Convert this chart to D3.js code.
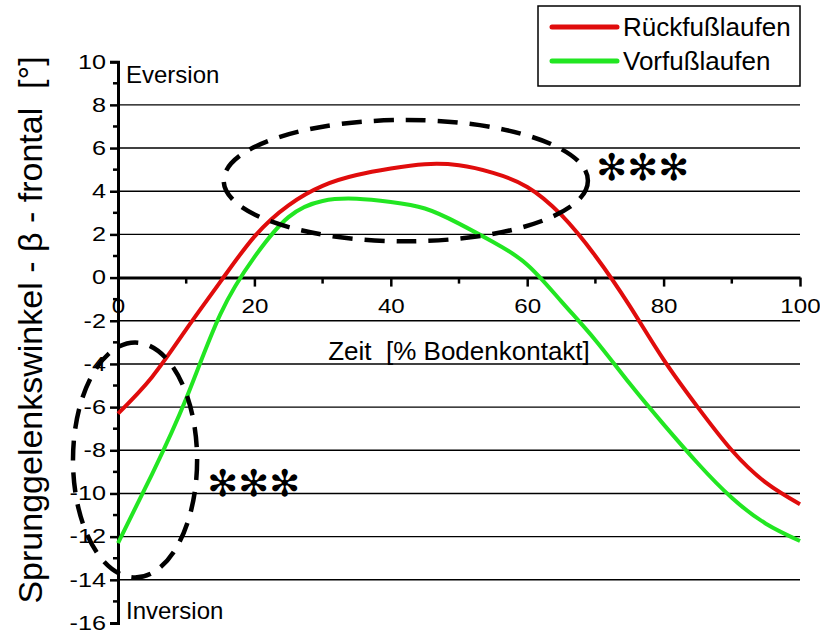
<!DOCTYPE html>
<html>
<head>
<meta charset="utf-8">
<script src="https://cdn.jsdelivr.net/npm/d3@7"></script>
<style>
  body { margin: 0; background: #fff; }
  svg { display: block; font-family: "Liberation Sans", Arial, sans-serif; }
  text { white-space: pre; }
</style>
</head>
<body>
<div id="chart"></div>
<script>
// time in % of ground contact
const zeit = [0, 5, 10, 15, 20, 25, 30, 35, 40, 45, 50, 55, 60, 65, 70, 75, 80, 85, 90, 95, 100];
// rearfoot running
const rueckfuss = [-6.3, -4.6, -2.4, -0.2, 1.9, 3.35, 4.25, 4.75, 5.05, 5.25, 5.2, 4.85, 4.2, 2.9, 1.0, -1.3, -3.8, -6.0, -8.0, -9.5, -10.5];
// forefoot running
const vorfuss = [-12.3, -9.1, -5.6, -1.7, 0.95, 2.8, 3.55, 3.65, 3.5, 3.2, 2.5, 1.65, 0.6, -1.1, -2.9, -4.9, -6.8, -8.6, -10.2, -11.4, -12.2];

const seriesNames = ['Rückfußlaufen', 'Vorfußlaufen'];
const seriesColors = ['#e00c0c', '#22e622'];

const xTicks = [0, 20, 40, 60, 80, 100];
const yTicks = [-16, -14, -12, -10, -8, -6, -4, -2, 0, 2, 4, 6, 8, 10];

// significance markers: center x/y and radii in data units
const ellipses = [
  { cx: 42.2, cy: 4.49, rx: 26.7, ry: 2.81 },
  { cx: 2.5, cy: -8.45, rx: 9.1, ry: 5.44 }
];

const W = 820, H = 633;
const x = d3.scaleLinear().domain([0, 100]).range([118, 800]);
const y = d3.scaleLinear().domain([-16, 10]).range([623, 61.7]);

const svg = d3.select('#chart').append('svg')
  .attr('width', W).attr('height', H);

// grid lines
svg.append('g').selectAll('line')
  .data(yTicks.filter(d => d !== 0 && d !== 10 && d !== -16))
  .enter().append('line')
  .attr('x1', x(0)).attr('x2', x(100))
  .attr('y1', d => y(d)).attr('y2', d => y(d))
  .attr('stroke', '#000').attr('stroke-width', 1.4);

// y axis
const yAxis = svg.append('g')
  .attr('transform', `translate(${x(0)},0)`)
  .call(d3.axisLeft(y).tickValues(yTicks).tickSize(8).tickFormat(d => d));
yAxis.select('.domain').attr('stroke-width', 3);
yAxis.selectAll('.tick line').attr('stroke-width', 2.5);
yAxis.selectAll('.tick text')
  .attr('font-size', 21).attr('font-family', null)
  .attr('x', -10).attr('dy', '0.3em')
  .attr('transform', 'scale(1.2,1)');
svg.append('g').selectAll('line')
  .data(d3.range(-15, 10, 2))
  .enter().append('line')
  .attr('x1', x(0) - 5).attr('x2', x(0))
  .attr('y1', d => y(d)).attr('y2', d => y(d))
  .attr('stroke', '#000').attr('stroke-width', 2.5);

// x axis at y = 0
const xAxis = svg.append('g')
  .attr('transform', `translate(0,${y(0)})`)
  .call(d3.axisBottom(x).tickValues(xTicks).tickSize(9).tickSizeOuter(0).tickFormat(d => d));
xAxis.select('.domain').attr('stroke-width', 3);
xAxis.selectAll('.tick line').attr('stroke-width', 2.5);
xAxis.selectAll('.tick text')
  .attr('font-size', 21).attr('font-family', null)
  .attr('y', 0).attr('dy', '1.7em')
  .attr('transform', 'scale(1.15,1)');
svg.append('g').selectAll('line')
  .data([10, 30, 50, 70, 90])
  .enter().append('line')
  .attr('x1', d => x(d)).attr('x2', d => x(d))
  .attr('y1', y(0)).attr('y2', y(0) + 6)
  .attr('stroke', '#000').attr('stroke-width', 2.5);

// curves
const line = d3.line()
  .x((d, i) => x(zeit[i]))
  .y(d => y(d))
  .curve(d3.curveNatural);
[rueckfuss, vorfuss].forEach((s, i) => {
  svg.append('path')
    .datum(s)
    .attr('d', line)
    .attr('fill', 'none')
    .attr('stroke', seriesColors[i])
    .attr('stroke-width', 4);
});

// dashed ellipses
svg.append('g').selectAll('ellipse')
  .data(ellipses)
  .enter().append('ellipse')
  .attr('cx', d => x(d.cx)).attr('cy', d => y(d.cy))
  .attr('rx', d => x(d.rx) - x(0)).attr('ry', d => y(0) - y(d.ry))
  .attr('fill', 'none')
  .attr('stroke', '#000').attr('stroke-width', 4.5)
  .attr('stroke-dasharray', '20 12');

// asterisks
[[596, 180], [207, 496]].forEach(p => {
  svg.append('text')
    .attr('x', p[0]).attr('y', p[1])
    .attr('font-family', 'DejaVu Sans').attr('font-size', 37)
    .text('✻✻✻');
});

// labels inside plot
svg.append('text').attr('x', 126).attr('y', 83).attr('font-size', 24).text('Eversion');
svg.append('text').attr('x', 126).attr('y', 619).attr('font-size', 24).text('Inversion');

// axis titles
svg.append('text')
  .attr('x', 459).attr('y', 360)
  .attr('text-anchor', 'middle').attr('font-size', 26)
  .text('Zeit  [% Bodenkontakt]');
svg.append('text')
  .attr('transform', 'translate(42,330) rotate(-90)')
  .attr('text-anchor', 'middle').attr('font-size', 34)
  .text('Sprunggelenkswinkel - β - frontal  [°]');

// legend
const legend = svg.append('g');
legend.append('rect')
  .attr('x', 538).attr('y', 6).attr('width', 262).attr('height', 80)
  .attr('fill', '#fff').attr('stroke', '#000').attr('stroke-width', 1.5);
seriesNames.forEach((name, i) => {
  const ly = 27 + i * 34;
  legend.append('line')
    .attr('x1', 552).attr('x2', 617).attr('y1', ly).attr('y2', ly)
    .attr('stroke', seriesColors[i]).attr('stroke-width', 5).attr('stroke-linecap', 'round');
  legend.append('text')
    .attr('x', 623).attr('y', ly + 9)
    .attr('font-size', 26)
    .text(name);
});
</script>
</body>
</html>
